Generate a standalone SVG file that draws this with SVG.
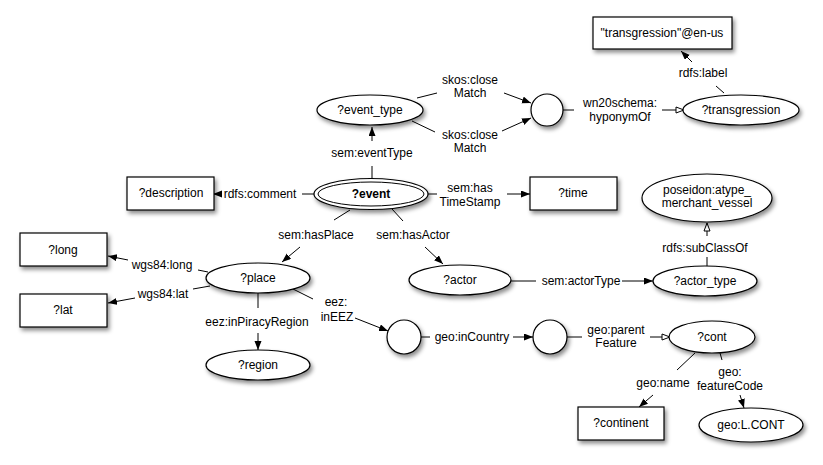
<svg xmlns="http://www.w3.org/2000/svg" width="823" height="465" viewBox="0 0 823 465">
<defs>
<filter id="sh" x="-20%" y="-30%" width="150%" height="180%">
<feDropShadow dx="2" dy="3" stdDeviation="2" flood-color="#000" flood-opacity="0.45"/>
</filter>
<marker id="af" markerUnits="userSpaceOnUse" markerWidth="10" markerHeight="8" refX="9" refY="3.5" orient="auto">
<path d="M0,0 L9,3.5 L0,7 z" fill="#000"/>
</marker>
<marker id="ao" markerUnits="userSpaceOnUse" markerWidth="11" markerHeight="9" refX="9" refY="4" orient="auto">
<path d="M1,1 L9,4 L1,7 z" fill="#fff" stroke="#000" stroke-width="1"/>
</marker>
</defs>
<style>
.n{fill:#fff;stroke:#000;stroke-width:1.2;filter:url(#sh)}
.t{font-family:"Liberation Sans",Arial,sans-serif;font-size:12px;fill:#000;text-anchor:middle}
.b{font-weight:bold}
.c line{stroke:#000;stroke-width:1}
.f{marker-end:url(#af)}
.o{marker-end:url(#ao)}
</style>
<rect width="823" height="465" fill="#fff"/>
<g id="connectors" class="c">
<line x1="372" y1="179" x2="372" y2="166"/>
<line class="f" x1="372" y1="141" x2="372" y2="127"/>
<line x1="417" y1="98" x2="437" y2="93"/>
<line class="f" x1="504" y1="93" x2="531" y2="103"/>
<line x1="412" y1="121" x2="435" y2="132"/>
<line class="f" x1="502" y1="131" x2="531" y2="118"/>
<line x1="563" y1="110" x2="574" y2="110"/>
<line class="o" x1="662" y1="110" x2="684" y2="110"/>
<line x1="724" y1="93" x2="716" y2="86"/>
<line class="f" x1="692" y1="62" x2="681" y2="51"/>
<line x1="314" y1="194" x2="302" y2="194"/>
<line class="f" x1="222" y1="194" x2="213" y2="194"/>
<line x1="428" y1="194" x2="437" y2="194"/>
<line class="f" x1="507" y1="194" x2="530" y2="194"/>
<line x1="350" y1="210" x2="334" y2="220"/>
<line class="f" x1="300" y1="247" x2="282" y2="262"/>
<line x1="392" y1="209" x2="403" y2="221"/>
<line class="f" x1="425" y1="247" x2="443" y2="264"/>
<line x1="208" y1="272" x2="198" y2="270"/>
<line class="f" x1="128" y1="260" x2="108" y2="256"/>
<line x1="210" y1="286" x2="193" y2="289"/>
<line class="f" x1="135" y1="298" x2="108" y2="303"/>
<line x1="258" y1="293" x2="258" y2="308"/>
<line class="f" x1="258" y1="333" x2="258" y2="350"/>
<line x1="293" y1="289" x2="313" y2="299"/>
<line class="f" x1="355" y1="318" x2="388" y2="331"/>
<line x1="511" y1="281" x2="536" y2="281"/>
<line class="f" x1="622" y1="281" x2="653" y2="281"/>
<line x1="707" y1="266" x2="707" y2="257"/>
<line class="o" x1="707" y1="236" x2="707" y2="223"/>
<line x1="421" y1="337" x2="430" y2="337"/>
<line class="f" x1="513" y1="337" x2="533" y2="337"/>
<line x1="567" y1="337" x2="582" y2="337"/>
<line class="o" x1="650" y1="337" x2="670" y2="337"/>
<line x1="695" y1="353" x2="677" y2="370"/>
<line class="f" x1="653" y1="395" x2="639" y2="407"/>
<line x1="720" y1="353" x2="722" y2="360"/>
<line class="f" x1="740" y1="395" x2="744" y2="408"/>
</g>
<g id="edge-labels">
<text class="t" x="703" y="77">rdfs:label</text>
<text class="t" x="620" y="107">wn20schema:</text>
<text class="t" x="620" y="121">hyponymOf</text>
<text class="t" x="470" y="84">skos:close</text>
<text class="t" x="470" y="97">Match</text>
<text class="t" x="470" y="139">skos:close</text>
<text class="t" x="470" y="152">Match</text>
<text class="t" x="372" y="157">sem:eventType</text>
<text class="t" x="260" y="198">rdfs:comment</text>
<text class="t" x="470" y="192">sem:has</text>
<text class="t" x="470" y="206">TimeStamp</text>
<text class="t" x="316" y="239">sem:hasPlace</text>
<text class="t" x="413" y="239">sem:hasActor</text>
<text class="t" x="581" y="285">sem:actorType</text>
<text class="t" x="705" y="252">rdfs:subClassOf</text>
<text class="t" x="162" y="269">wgs84:long</text>
<text class="t" x="163" y="298">wgs84:lat</text>
<text class="t" x="257" y="326">eez:inPiracyRegion</text>
<text class="t" x="336" y="306">eez:</text>
<text class="t" x="337" y="321">inEEZ</text>
<text class="t" x="472" y="341">geo:inCountry</text>
<text class="t" x="616" y="334">geo:parent</text>
<text class="t" x="616" y="347">Feature</text>
<text class="t" x="663" y="387">geo:name</text>
<text class="t" x="730" y="376">geo:</text>
<text class="t" x="730" y="390">featureCode</text>
</g>
<g id="label-box"><rect class="n" x="593" y="17" width="139" height="32"/><text class="t" x="662" y="37">"transgression"@en-us</text></g>
<g id="transgression"><ellipse class="n" cx="741" cy="110" rx="58" ry="15"/><text class="t" x="741" y="114">?transgression</text></g>
<g id="circle1"><circle class="n" cx="547" cy="110" r="16"/></g>
<g id="event_type"><ellipse class="n" cx="370" cy="110" rx="53" ry="15"/><text class="t" x="370" y="114">?event_type</text></g>
<g id="event"><ellipse class="n" cx="371" cy="194" rx="57" ry="15.5"/><ellipse cx="371" cy="194" rx="53" ry="12" fill="none" stroke="#000" stroke-width="1"/><text class="t b" x="371" y="198">?event</text></g>
<g id="description"><rect class="n" x="127" y="177" width="87" height="33"/><text class="t" x="171" y="197">?description</text></g>
<g id="time"><rect class="n" x="530" y="177" width="87" height="33"/><text class="t" x="573" y="197">?time</text></g>
<g id="poseidon"><ellipse class="n" cx="707" cy="198" rx="65" ry="24"/><text class="t" x="707" y="194">poseidon:atype_</text><text class="t" x="707" y="207">merchant_vessel</text></g>
<g id="place"><ellipse class="n" cx="258" cy="278" rx="52" ry="15"/><text class="t" x="258" y="282">?place</text></g>
<g id="actor"><ellipse class="n" cx="460" cy="280" rx="51" ry="15"/><text class="t" x="460" y="284">?actor</text></g>
<g id="actor_type"><ellipse class="n" cx="705" cy="281" rx="52" ry="15"/><text class="t" x="705" y="285">?actor_type</text></g>
<g id="long"><rect class="n" x="20" y="233" width="87" height="33"/><text class="t" x="63" y="254">?long</text></g>
<g id="lat"><rect class="n" x="20" y="294" width="87" height="33"/><text class="t" x="63" y="314">?lat</text></g>
<g id="region"><ellipse class="n" cx="258" cy="365" rx="52" ry="15"/><text class="t" x="258" y="369">?region</text></g>
<g id="circle2"><circle class="n" cx="404" cy="337" r="17"/></g>
<g id="circle3"><circle class="n" cx="550" cy="337" r="17"/></g>
<g id="cont"><ellipse class="n" cx="712" cy="337" rx="43" ry="16"/><text class="t" x="712" y="341">?cont</text></g>
<g id="continent"><rect class="n" x="578" y="407" width="86" height="33"/><text class="t" x="621" y="427">?continent</text></g>
<g id="lcont"><ellipse class="n" cx="751" cy="425" rx="52" ry="17"/><text class="t" x="751" y="429">geo:L.CONT</text></g>
</svg>
